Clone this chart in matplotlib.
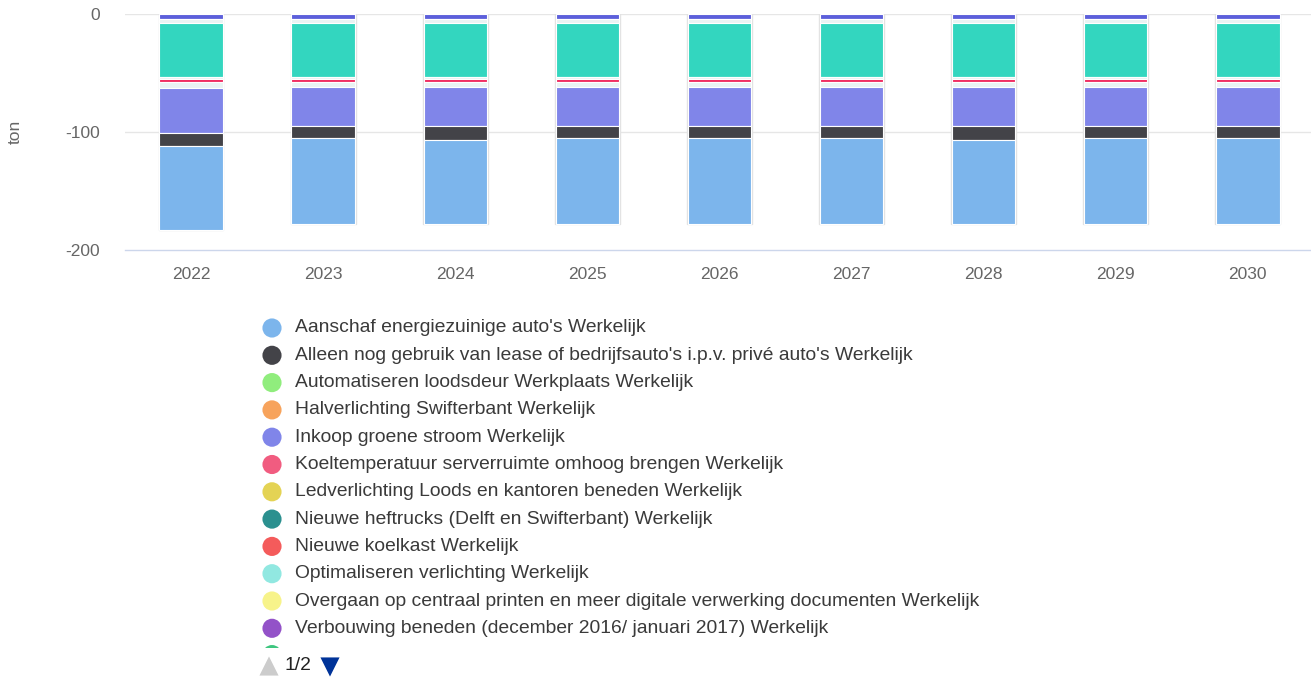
import matplotlib
matplotlib.use("Agg")
import matplotlib.pyplot as plt
import numpy as np
from matplotlib.patches import Rectangle

plt.rcParams['font.family'] = ['Liberation Sans', 'DejaVu Sans']

# ---------------- data ----------------
years = ['2022', '2023', '2024', '2025', '2026', '2027', '2028', '2029', '2030']

# stacked from zero downwards (top of bar first)
page2_blue = [-4.2, -4.2, -4.2, -4.2, -4.2, -4.2, -4.2, -4.2, -4.2]
light_a = [-3.4, -3.4, -3.4, -3.4, -3.4, -3.4, -3.4, -3.4, -3.4]
page2_teal = [-45.5, -45.5, -45.5, -45.5, -45.5, -45.5, -45.5, -45.5, -45.5]
light_b = [-2.0, -2.0, -2.0, -2.0, -2.0, -2.0, -2.0, -2.0, -2.0]
koeltemperatuur = [-2.5, -2.5, -2.5, -2.5, -2.5, -2.5, -2.5, -2.5, -2.5]
light_c = [-4.7, -4.4, -4.4, -4.4, -4.4, -4.4, -4.4, -4.4, -4.4]
inkoop = [-38.2, -33.0, -33.0, -33.0, -33.0, -33.0, -33.0, -33.0, -33.0]
alleen = [-11.0, -10.5, -12.0, -10.5, -10.5, -10.5, -12.0, -10.5, -10.5]
aanschaf = [-71.5, -72.5, -71.0, -72.5, -72.5, -72.5, -71.0, -72.5, -72.5]

stack_series = [page2_blue, light_a, page2_teal, light_b, koeltemperatuur,
                light_c, inkoop, alleen, aanschaf]
stack_colors = ['#5c5fdb', '#e9f3f3', '#33d6bf', '#e9f3f3', '#f0245a',
                '#e9f3f3', '#8085e9', '#434348', '#7cb5ec']

legend_names = [
    "Aanschaf energiezuinige auto's Werkelijk",
    "Alleen nog gebruik van lease of bedrijfsauto's i.p.v. privé auto's Werkelijk",
    "Automatiseren loodsdeur Werkplaats Werkelijk",
    "Halverlichting Swifterbant Werkelijk",
    "Inkoop groene stroom Werkelijk",
    "Koeltemperatuur serverruimte omhoog brengen Werkelijk",
    "Ledverlichting Loods en kantoren beneden Werkelijk",
    "Nieuwe heftrucks (Delft en Swifterbant) Werkelijk",
    "Nieuwe koelkast Werkelijk",
    "Optimaliseren verlichting Werkelijk",
    "Overgaan op centraal printen en meer digitale verwerking documenten Werkelijk",
    "Verbouwing beneden (december 2016/ januari 2017) Werkelijk",
]
legend_colors = ['#7cb5ec', '#434348', '#90ed7d', '#f7a35c', '#8085e9', '#f15c80',
                 '#e4d354', '#2b908f', '#f45b5b', '#91e8e1', '#f7f38a', '#9352c8']
next_color = '#3ec67f'

yticks = [0, -100, -200]

# ---------------- figure ----------------
W, H = 1311, 677
fig = plt.figure(figsize=(W / 100, H / 100), dpi=100)

left, right_px, top, bottom = 125, 125 + 9 * 132.1, 14, 250
ax = fig.add_axes([left / W, 1 - bottom / H, (right_px - left) / W, (bottom - top) / H])

x = np.arange(len(years))
base = np.zeros(len(years))
# faint outline around each full bar
totals = np.sum(np.array(stack_series), axis=0)
ax.bar(x, totals, width=0.49, color='none', edgecolor='#e2e2e2',
       linewidth=1.0, zorder=2)
for vals, col in zip(stack_series, stack_colors):
    v = np.array(vals)
    ax.bar(x, v, bottom=base, width=0.48, color=col, edgecolor='white',
           linewidth=0.8, zorder=3)
    base = base + v

ax.set_xlim(-0.5, len(years) - 0.5)
ax.set_ylim(-200, 0)
ax.set_yticks(yticks)
ax.set_yticklabels([str(t) for t in yticks])
ax.set_xticks(x)
ax.set_xticklabels(years)
ax.tick_params(axis='y', length=0, pad=18, labelsize=12.5, labelcolor='#666666')
ax.tick_params(axis='x', length=0, pad=12, labelsize=12.5, labelcolor='#666666')
for t in yticks[:-1]:
    ax.axhline(t, color='#e6e6e6', linewidth=1, zorder=1)
for s in ['top', 'right', 'left']:
    ax.spines[s].set_visible(False)
ax.spines['bottom'].set_color('#ccd6eb')
ax.spines['bottom'].set_linewidth(1)
ax.spines['bottom'].set_zorder(4)
ax.spines['bottom'].set_position(('data', -200))

fig.text(15 / W, 1 - 132 / H, 'ton', rotation=90, ha='center', va='center',
         fontsize=12.5, color='#666666')

# ---------------- legend (drawn in pixel coords) ----------------
lax = fig.add_axes([0, 0, 1, 1])
lax.set_xlim(0, W)
lax.set_ylim(H, 0)
lax.axis('off')

y0, dy = 328, 27.3
for i, (name, col) in enumerate(zip(legend_names, legend_colors)):
    yy = y0 + i * dy
    lax.scatter([272], [yy], s=190, color=col, edgecolors='none', zorder=3)
    lax.text(295, yy, name, fontsize=13.85, color='#3a3a3a', va='center', ha='left')

# partially visible next item (clipped)
sc = lax.scatter([272], [y0 + 12 * dy - 1], s=190, color=next_color, edgecolors='none')
clip = Rectangle((0, 0), W, 648, transform=lax.transData)
sc.set_clip_path(clip)

# navigation
nav_y = 666
lax.scatter([269], [nav_y], marker='^', s=190, color='#cccccc', edgecolors='none')
lax.text(285, nav_y, '1/2', fontsize=13.85, color='#222222', va='center', ha='left')
lax.scatter([330], [nav_y + 1], marker='v', s=190, color='#003399', edgecolors='none')

fig.savefig('out.png', dpi=100)
